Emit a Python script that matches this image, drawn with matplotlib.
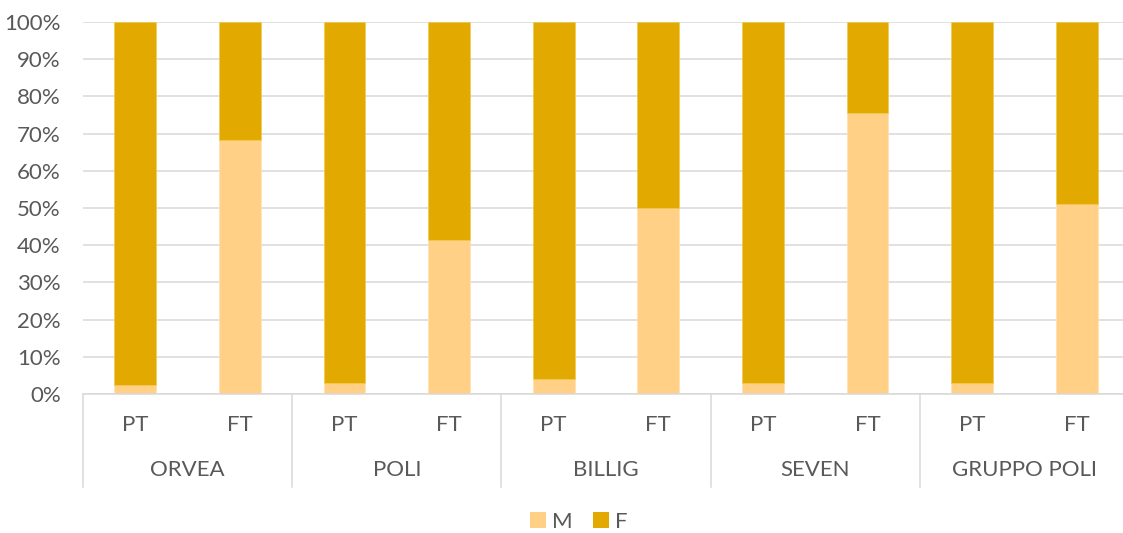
import matplotlib
matplotlib.use("Agg")
import matplotlib.pyplot as plt
from matplotlib.patches import Patch
from matplotlib.ticker import FuncFormatter, MultipleLocator
import matplotlib.transforms as mtransforms
import numpy as np

groups = ["ORVEA", "POLI", "BILLIG", "SEVEN", "GRUPPO POLI"]
sub_labels = ["PT", "FT"]
m_values = [2.3, 68.2, 2.9, 41.5, 3.9, 50.0, 2.9, 75.6, 2.9, 51.0]
f_values = [100 - v for v in m_values]

col_m = "#FFD086"
col_f = "#E2AA00"
txt = "#595959"
grid = "#D9D9D9"

plt.rcParams['font.family'] = ['Lato', 'DejaVu Sans']

fig = plt.figure(figsize=(11.23, 5.33), dpi=100)
W, H = 1123, 533
ax = fig.add_axes([83 / W, (H - 394) / H, 1046 / W, 372 / H])

x = np.arange(len(m_values))
ax.bar(x, m_values, width=0.4, color=col_m, edgecolor="#FFE2B0", linewidth=0.5, zorder=3)
ax.bar(x, f_values, bottom=m_values, width=0.4, color=col_f, edgecolor="#F0C850", linewidth=0.5, zorder=3)

ax.set_xlim(-0.5, len(m_values) - 0.5)
ax.set_ylim(0, 100)
ax.yaxis.set_major_locator(MultipleLocator(10))
ax.yaxis.set_major_formatter(FuncFormatter(lambda v, p: f"{int(round(v))}%"))
ax.tick_params(axis='y', length=0, pad=16, labelsize=16, labelcolor=txt)
ax.set_xticks([])
ax.grid(axis='y', color=grid, linewidth=1.1, zorder=0)
for s in ["top", "right", "left"]:
    ax.spines[s].set_visible(False)
ax.spines["bottom"].set_color(grid)
ax.spines["bottom"].set_linewidth(1.1)
ax.spines["bottom"].set_zorder(4)

trans = mtransforms.blended_transform_factory(ax.transData, ax.transAxes)
for i in range(len(m_values)):
    ax.text(x[i], (394 - 425) / 372, sub_labels[i % 2], transform=trans,
            ha="center", va="center", fontsize=16, color=txt)
for g, name in enumerate(groups):
    ax.text(2 * g + 0.5, (394 - 470) / 372, name, transform=trans,
            ha="center", va="center", fontsize=16, color=txt)
for b in range(len(groups) + 1):
    ax.plot([2 * b - 0.5, 2 * b - 0.5], [0, (394 - 487) / 372], transform=trans,
            color=grid, linewidth=1.1, clip_on=False)

handles = [Patch(facecolor=col_m, label="M"), Patch(facecolor=col_f, label="F")]
leg = fig.legend(handles=handles, loc="center", bbox_to_anchor=(579 / W, 1 - 522 / H),
                 ncol=2, frameon=False, fontsize=16, handlelength=0.7, handleheight=0.7,
                 handletextpad=0.3, columnspacing=0.9)
for t in leg.get_texts():
    t.set_color(txt)

fig.savefig("out.png", dpi=100)
